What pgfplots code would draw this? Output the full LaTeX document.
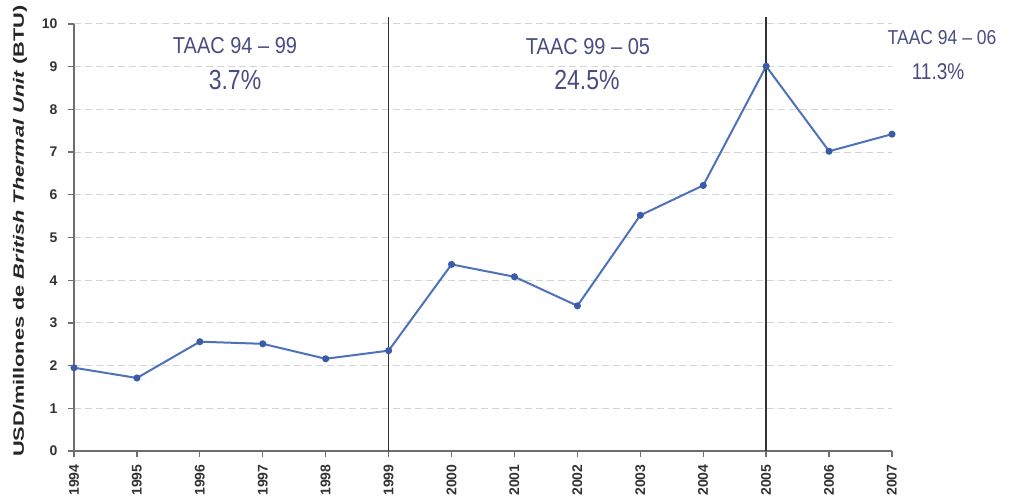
\documentclass[border=0pt]{standalone}
\usepackage{pgfplots}
\pgfplotsset{compat=1.18}
\usepackage{fontspec}
\setmainfont{Liberation Sans}
\definecolor{linecol}{RGB}{78,114,186}
\definecolor{markcol}{RGB}{60,92,168}
\definecolor{txtcol}{RGB}{72,76,130}
\definecolor{gridcol}{RGB}{212,212,212}
\definecolor{axcol}{RGB}{110,110,110}
\begin{document}
\begin{tikzpicture}
\useasboundingbox (0,0) rectangle (1016pt,498pt);
\begin{axis}[
 at={(74pt,47pt)}, anchor=south west,
 scale only axis, width=818pt, height=427pt,
 xmin=1994, xmax=2007, ymin=0, ymax=10,
 axis x line*=bottom, axis y line*=left,
 axis line style={axcol, line width=1.2pt, -},
 xtick={1994,...,2007}, ytick={0,...,10},
 ymajorgrids, grid style={gridcol, dash pattern=on 7pt off 4pt, line width=1pt},
 tick align=outside, major tick length=6pt, tick style={axcol, line width=1.2pt},
 /pgf/number format/assume math mode=true,
 x tick label style={rotate=90, anchor=east, font=\fontsize{14}{14}\selectfont\bfseries, text=black!80, /pgf/number format/1000 sep={}, xshift=-4pt},
 y tick label style={font=\fontsize{14}{14}\selectfont\bfseries, text=black!80, xshift=-7pt},
 clip=false,
]
\addplot[linecol, line width=2pt, mark=*, mark size=2.5pt, mark options={fill=markcol, draw=markcol}] coordinates {
 (1994,1.95) (1995,1.71) (1996,2.56) (1997,2.51) (1998,2.16) (1999,2.35)
 (2000,4.37) (2001,4.08) (2002,3.40) (2003,5.52) (2004,6.22) (2005,9.01)
 (2006,7.02) (2007,7.42)};
\draw[black!80, line width=1.6pt] (axis cs:1999,0) -- (axis cs:1999,10.17);
\draw[black!80, line width=1.6pt] (axis cs:2005,0) -- (axis cs:2005,10.17);
\end{axis}
\node[rotate=90, font=\fontsize{15}{15}\selectfont\bfseries, text=black!85] at (20pt,267pt)
 {\scalebox{1.45}[1]{USD/millones de \textit{British Thermal Unit} (BTU)}};
\node[txtcol, font=\fontsize{20}{20}\selectfont] at (235pt,452pt) {\scalebox{1}[1.15]{TAAC 94 -- 99}};
\node[txtcol, font=\fontsize{23}{23}\selectfont] at (235pt,418pt) {\scalebox{1}[1.2]{3.7\%}};
\node[txtcol, font=\fontsize{20}{20}\selectfont] at (588pt,451pt) {\scalebox{1}[1.15]{TAAC 99 -- 05}};
\node[txtcol, font=\fontsize{23}{23}\selectfont] at (587pt,418pt) {\scalebox{1}[1.2]{24.5\%}};
\node[txtcol, font=\fontsize{17.5}{17.5}\selectfont] at (942pt,460pt) {\scalebox{1}[1.15]{TAAC 94 -- 06}};
\node[txtcol, font=\fontsize{19}{19}\selectfont] at (938pt,426pt) {\scalebox{1}[1.2]{11.3\%}};
\end{tikzpicture}
\end{document}
